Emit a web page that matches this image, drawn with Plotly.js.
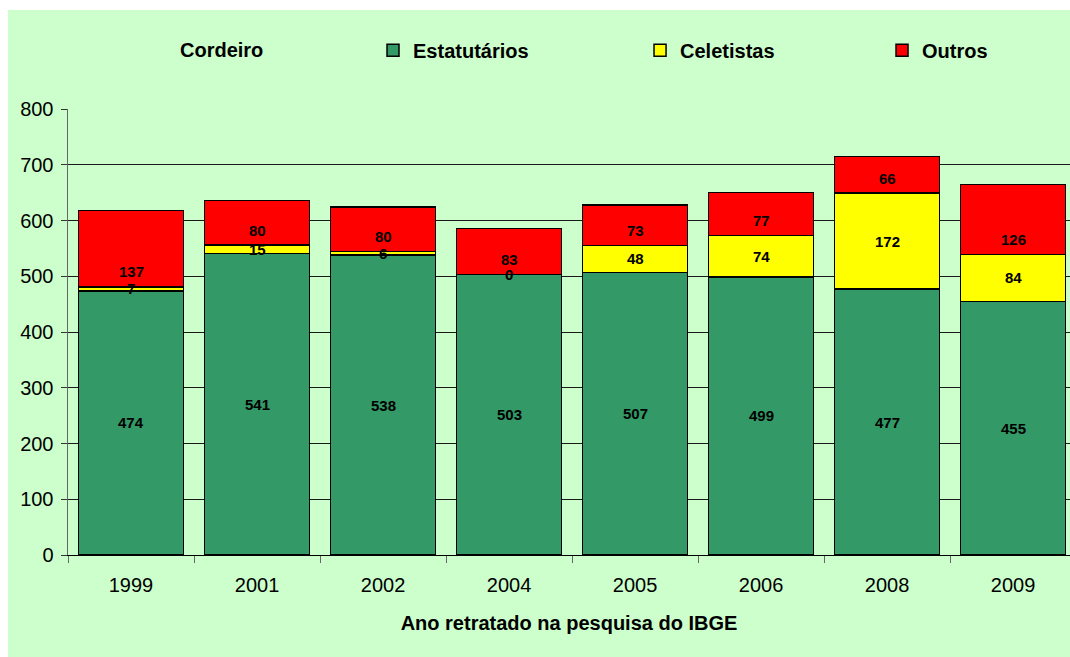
<!DOCTYPE html>
<html>
<head>
<meta charset="utf-8">
<script src="https://cdn.plot.ly/plotly-3.0.1.min.js"></script>
<style>
  html, body { margin: 0; padding: 0; background: #ffffff; }
  #chart { position: absolute; left: 8px; top: 10px; width: 1062px; height: 647px; }
</style>
</head>
<body>
<div id="chart"></div>
<script>
const years = ['1999', '2001', '2002', '2004', '2005', '2006', '2008', '2009'];
const estatutarios = [474, 541, 538, 503, 507, 499, 477, 455];
const celetistas = [7, 15, 6, 0, 48, 74, 172, 84];
const outros = [137, 80, 80, 83, 73, 77, 66, 126];
const seriesNames = ['Estatutários', 'Celetistas', 'Outros'];
const chartTitle = 'Cordeiro';
const xTitle = 'Ano retratado na pesquisa do IBGE';

const FONT = 'Liberation Sans, Arial, sans-serif';
const colors = ['#339966', '#FFFF00', '#FF0000'];
const seriesData = [estatutarios, celetistas, outros];
const legendIds = ['legend', 'legend2', 'legend3'];

const traces = seriesData.map((vals, i) => ({
  type: 'bar',
  name: seriesNames[i],
  x: years,
  y: vals,
  marker: { color: colors[i], line: { color: '#000000', width: 1.5 } },
  legend: legendIds[i],
  hoverinfo: 'skip'
}));

// data labels: centered for the first two series, near base for the top one
const annotations = [];
years.forEach((yr, j) => {
  let base = 0;
  seriesData.forEach((vals, i) => {
    const v = vals[j];
    const isTop = i === seriesData.length - 1;
    annotations.push({
      x: j, y: isTop ? base : base + v / 2,
      xref: 'x', yref: 'y',
      yshift: isTop ? 15 : 0,
      text: String(v), showarrow: false,
      font: { family: FONT, size: 15, color: '#000', weight: 'bold' }
    });
    base += v;
  });
});

const legendBase = {
  orientation: 'h', xanchor: 'left', yanchor: 'middle', y: 1.132,
  bgcolor: 'rgba(0,0,0,0)', borderwidth: 0,
  font: { family: FONT, size: 20, color: '#000', weight: 'bold' }
};

const layout = {
  width: 1062, height: 647,
  paper_bgcolor: '#CCFFCC', plot_bgcolor: '#CCFFCC',
  margin: { l: 60, r: 0, t: 99, b: 102 },
  barmode: 'stack', bargap: 0.167,
  title: {
    text: chartTitle, x: 172 / 1062, xanchor: 'left', xref: 'container',
    y: 1 - 40 / 647, yanchor: 'middle', yref: 'container',
    font: { family: FONT, size: 20, color: '#000', weight: 'bold' }
  },
  showlegend: true,
  legend: Object.assign({}, legendBase, { x: 0.3044 }),
  legend2: Object.assign({}, legendBase, { x: 0.5709 }),
  legend3: Object.assign({}, legendBase, { x: 0.8124 }),
  xaxis: {
    type: 'category', range: [-0.5, 7.452],
    showline: true, linecolor: '#000', linewidth: 1,
    ticks: 'outside', tickson: 'boundaries', ticklen: 7, tickcolor: '#666',
    showgrid: false,
    ticklabelstandoff: 12,
    tickfont: { family: FONT, size: 20, color: '#000' },
    title: { text: xTitle, standoff: 20, font: { family: FONT, size: 20, color: '#000', weight: 'bold' } }
  },
  yaxis: {
    range: [0, 800], dtick: 100, tick0: 0,
    showline: true, linecolor: '#666', linewidth: 1.5,
    ticks: 'outside', ticklen: 6, tickcolor: '#333',
    showgrid: true, gridcolor: '#1a1a1a', gridwidth: 1,
    zeroline: false,
    ticklabelstandoff: 3,
    tickfont: { family: FONT, size: 20, color: '#000' }
  },
  annotations: annotations
};

Plotly.newPlot('chart', traces, layout, { displayModeBar: false, staticPlot: true });
</script>
</body>
</html>
